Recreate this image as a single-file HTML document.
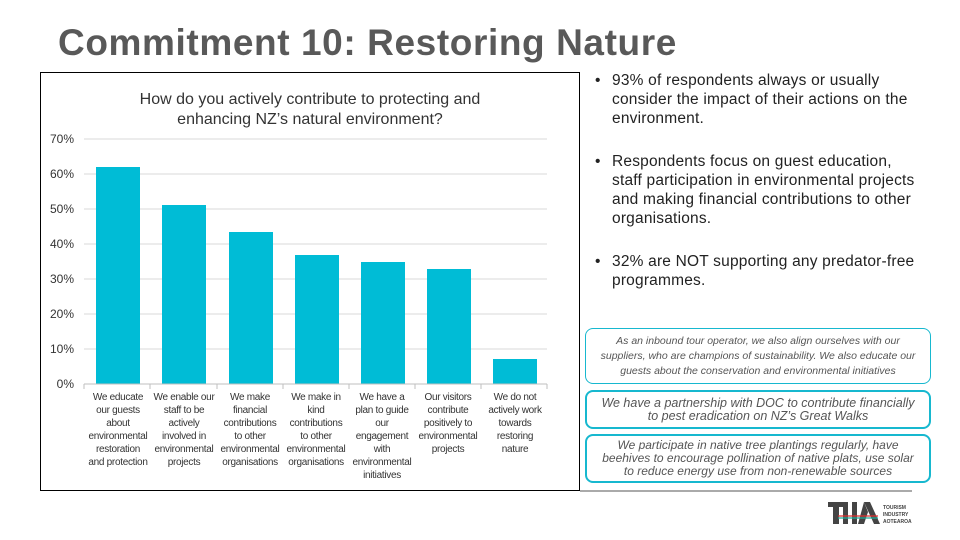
<!DOCTYPE html>
<html><head><style>
body{margin:0;width:960px;height:540px;background:#fff;position:relative;overflow:hidden;font-family:"Liberation Sans",sans-serif}
.t{position:absolute;left:58px;top:22px;font-size:37px;font-weight:bold;color:#595959;letter-spacing:0.6px}
.chart{position:absolute;left:40px;top:72px;width:538px;height:417px;border:1px solid #000}
ul{position:absolute;left:595px;top:71px;margin:0;padding:0;list-style:none;width:328px;font-size:15.5px;line-height:19px;color:#222;letter-spacing:0.2px}
li{position:relative;padding-left:17px;margin-bottom:24px}
li:before{content:"•";position:absolute;left:0}
.b{position:absolute;left:585px;width:346px;border:2px solid #17b8cf;border-radius:8px;text-align:center;font-style:italic;color:#555;box-sizing:border-box;display:flex;align-items:center;justify-content:center}
</style></head><body>
<div class="t">Commitment 10: Restoring Nature</div>
<div class="chart"></div>
<svg style="position:absolute;left:0;top:0" width="960" height="540" font-family="Liberation Sans, sans-serif">
<text x="310" y="104" font-size="16" text-anchor="middle" fill="#333">How do you actively contribute to protecting and</text>
<text x="310" y="124" font-size="16" text-anchor="middle" fill="#333">enhancing NZ’s natural environment?</text>
<g stroke="#d9d9d9" stroke-width="1">
<line x1="84" x2="547" y1="139" y2="139"/><line x1="84" x2="547" y1="174" y2="174"/><line x1="84" x2="547" y1="209" y2="209"/><line x1="84" x2="547" y1="244" y2="244"/><line x1="84" x2="547" y1="279" y2="279"/><line x1="84" x2="547" y1="314" y2="314"/><line x1="84" x2="547" y1="349" y2="349"/>
</g>
<g font-size="12" fill="#333" text-anchor="end">
<text x="74" y="143">70%</text><text x="74" y="178">60%</text><text x="74" y="213">50%</text><text x="74" y="248">40%</text><text x="74" y="283">30%</text><text x="74" y="318">20%</text><text x="74" y="353">10%</text><text x="74" y="388">0%</text>
</g>
<g fill="#00bcd6">
<rect x="96" y="167" width="44" height="217"/>
<rect x="162" y="205" width="44" height="179"/>
<rect x="229" y="232" width="44" height="152"/>
<rect x="295" y="255" width="44" height="129"/>
<rect x="361" y="262" width="44" height="122"/>
<rect x="427" y="269" width="44" height="115"/>
<rect x="493" y="359" width="44" height="25"/>
</g>
<g stroke="#bfbfbf"><line x1="84" x2="547" y1="384" y2="384"/>
<line x1="84" x2="84" y1="384" y2="389"/><line x1="150" x2="150" y1="384" y2="389"/><line x1="217" x2="217" y1="384" y2="389"/><line x1="283" x2="283" y1="384" y2="389"/><line x1="349" x2="349" y1="384" y2="389"/><line x1="415" x2="415" y1="384" y2="389"/><line x1="481" x2="481" y1="384" y2="389"/><line x1="547" x2="547" y1="384" y2="389"/></g>
<g font-size="10" fill="#333" text-anchor="middle" letter-spacing="-0.3">
<text y="400"><tspan x="118">We educate</tspan><tspan x="118" dy="13">our guests</tspan><tspan x="118" dy="13">about</tspan><tspan x="118" dy="13">environmental</tspan><tspan x="118" dy="13">restoration</tspan><tspan x="118" dy="13">and protection</tspan></text>
<text y="400"><tspan x="184">We enable our</tspan><tspan x="184" dy="13">staff to be</tspan><tspan x="184" dy="13">actively</tspan><tspan x="184" dy="13">involved in</tspan><tspan x="184" dy="13">environmental</tspan><tspan x="184" dy="13">projects</tspan></text>
<text y="400"><tspan x="250">We make</tspan><tspan x="250" dy="13">financial</tspan><tspan x="250" dy="13">contributions</tspan><tspan x="250" dy="13">to other</tspan><tspan x="250" dy="13">environmental</tspan><tspan x="250" dy="13">organisations</tspan></text>
<text y="400"><tspan x="316">We make in</tspan><tspan x="316" dy="13">kind</tspan><tspan x="316" dy="13">contributions</tspan><tspan x="316" dy="13">to other</tspan><tspan x="316" dy="13">environmental</tspan><tspan x="316" dy="13">organisations</tspan></text>
<text y="400"><tspan x="382">We have a</tspan><tspan x="382" dy="13">plan to guide</tspan><tspan x="382" dy="13">our</tspan><tspan x="382" dy="13">engagement</tspan><tspan x="382" dy="13">with</tspan><tspan x="382" dy="13">environmental</tspan><tspan x="382" dy="13">initiatives</tspan></text>
<text y="400"><tspan x="448">Our visitors</tspan><tspan x="448" dy="13">contribute</tspan><tspan x="448" dy="13">positively to</tspan><tspan x="448" dy="13">environmental</tspan><tspan x="448" dy="13">projects</tspan></text>
<text y="400"><tspan x="515">We do not</tspan><tspan x="515" dy="13">actively work</tspan><tspan x="515" dy="13">towards</tspan><tspan x="515" dy="13">restoring</tspan><tspan x="515" dy="13">nature</tspan></text>
</g>
<line x1="580" x2="912" y1="491" y2="491" stroke="#555" stroke-width="1"/>
<g transform="translate(828,502)">
<rect x="0" y="0" width="16" height="5" fill="#444"/><rect x="5" y="0" width="6" height="22" fill="#444"/>
<rect x="15" y="0" width="5" height="22" fill="#444"/><rect x="24" y="0" width="5" height="22" fill="#444"/>
<polygon points="36,0 42,0 52,22 46,22" fill="#444"/><polygon points="36,0 30,22 36,22 40,10" fill="#444"/>
<line x1="10" x2="50" y1="14" y2="14" stroke="#d33" stroke-width="1.2"/><line x1="10" x2="50" y1="16" y2="16" stroke="#2a9" stroke-width="1.2"/>
<text x="55" y="7" font-size="5" font-weight="bold" fill="#444">TOURISM</text><text x="55" y="14" font-size="5" font-weight="bold" fill="#444">INDUSTRY</text><text x="55" y="21" font-size="5" font-weight="bold" fill="#444">AOTEAROA</text>
</g>
</svg>
<ul>
<li>93% of respondents always or usually consider the impact of their actions on the environment.</li>
<li>Respondents focus on guest education, staff participation in environmental projects and making financial contributions to other organisations.</li>
<li>32% are NOT supporting any predator-free programmes.</li>
</ul>
<div class="b" style="top:328px;height:56px;font-size:10.5px;line-height:15px;border-width:1px;padding:0 14px">As an inbound tour operator, we also align ourselves with our suppliers, who are champions of sustainability. We also educate our guests about the conservation and environmental initiatives</div>
<div class="b" style="top:390px;height:39px;font-size:12.5px;line-height:13px;padding:0 8px">We have a partnership with DOC to contribute financially to pest eradication on NZ’s Great Walks</div>
<div class="b" style="top:434px;height:49px;font-size:12px;line-height:13px;padding:0 10px">We participate in native tree plantings regularly, have beehives to encourage pollination of native plats, use solar to reduce energy use from non-renewable sources</div>
</body></html>
